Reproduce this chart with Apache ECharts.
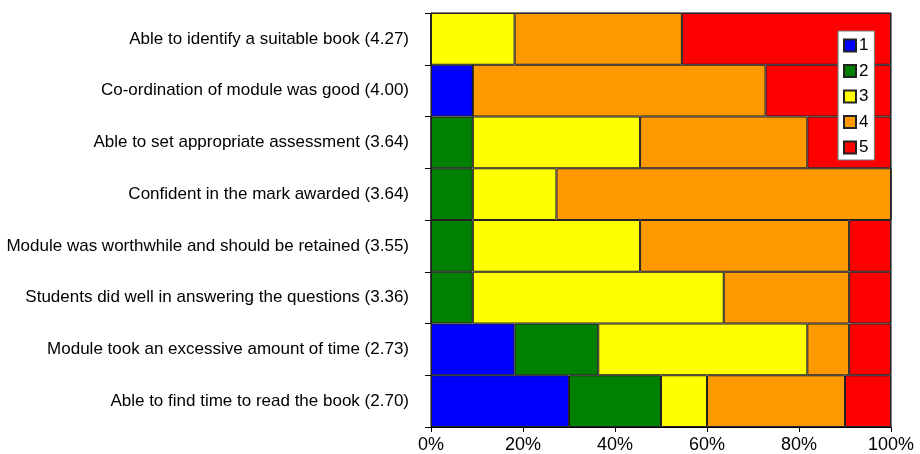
<!DOCTYPE html>
<html><head><meta charset="utf-8">
<script src="https://cdn.jsdelivr.net/npm/echarts@6/dist/echarts.min.js"></script>
<style>html,body{margin:0;padding:0;background:#fff}#c{width:920px;height:454px}</style>
</head><body><div id="c"></div>
<script>
const categories = [
  "Able to identify a suitable book (4.27)",
  "Co-ordination of module was good (4.00)",
  "Able to set appropriate assessment (3.64)",
  "Confident in the mark awarded (3.64)",
  "Module was worthwhile and should be retained (3.55)",
  "Students did well in answering the questions (3.36)",
  "Module took an excessive amount of time (2.73)",
  "Able to find time to read the book (2.70)"
];
const seriesNames = ["1","2","3","4","5"];
const s1 = [0, 9.09, 0, 0, 0, 0, 18.18, 30];
const s2 = [0, 0, 9.09, 9.09, 9.09, 9.09, 18.18, 20];
const s3 = [18.18, 0, 36.36, 18.18, 36.36, 54.55, 45.45, 10];
const s4 = [36.36, 63.64, 36.36, 72.73, 45.45, 27.27, 9.09, 30];
const s5 = [45.45, 27.27, 18.18, 0, 9.09, 9.09, 9.09, 10];
const xTicks = [0, 20, 40, 60, 80, 100];
const colors = ["#0000FF", "#008000", "#FFFF00", "#FF9900", "#FF0000"];

const values = [s1, s2, s3, s4, s5];
const chart = echarts.init(document.getElementById('c'), null, {renderer: 'canvas'});
chart.setOption({
  animation: false,
  textStyle: {fontFamily: 'Liberation Sans, Arial, sans-serif'},
  grid: {left: 431, right: 29, top: 13, bottom: 25, show: true, borderColor: '#000', borderWidth: 1, containLabel: false},
  legend: {
    orient: 'vertical', left: 838, top: 31,
    icon: 'rect',
    itemWidth: 12, itemHeight: 12, itemGap: 8.5,
    padding: [6, 6, 4, 5],
    backgroundColor: '#fff', borderColor: '#777', borderWidth: 1,
    textStyle: {fontSize: 17, color: '#000', padding: [0, 0, 0, -2]},
    data: seriesNames
  },
  xAxis: {
    type: 'value', min: xTicks[0], max: xTicks[xTicks.length - 1], interval: 20,
    axisLine: {show: true, lineStyle: {color: '#000', width: 1}},
    axisTick: {show: true, length: 5, lineStyle: {color: '#000'}},
    splitLine: {show: false},
    axisLabel: {formatter: '{value}%', fontSize: 18, color: '#000', margin: 9}
  },
  yAxis: {
    type: 'category', data: categories, inverse: true,
    axisLine: {show: true, lineStyle: {color: '#000', width: 1}},
    axisTick: {show: true, length: 6, lineStyle: {color: '#000'}},
    axisLabel: {fontSize: 17, color: '#000', margin: 22, padding: [4, 0, 0, 0]}
  },
  series: seriesNames.map((n, i) => ({
    name: n, type: 'bar', stack: 'total', data: values[i],
    barCategoryGap: 0, barWidth: '100%',
    itemStyle: {color: colors[i], borderColor: '#222', borderWidth: 1}
  }))
});
</script></body></html>
